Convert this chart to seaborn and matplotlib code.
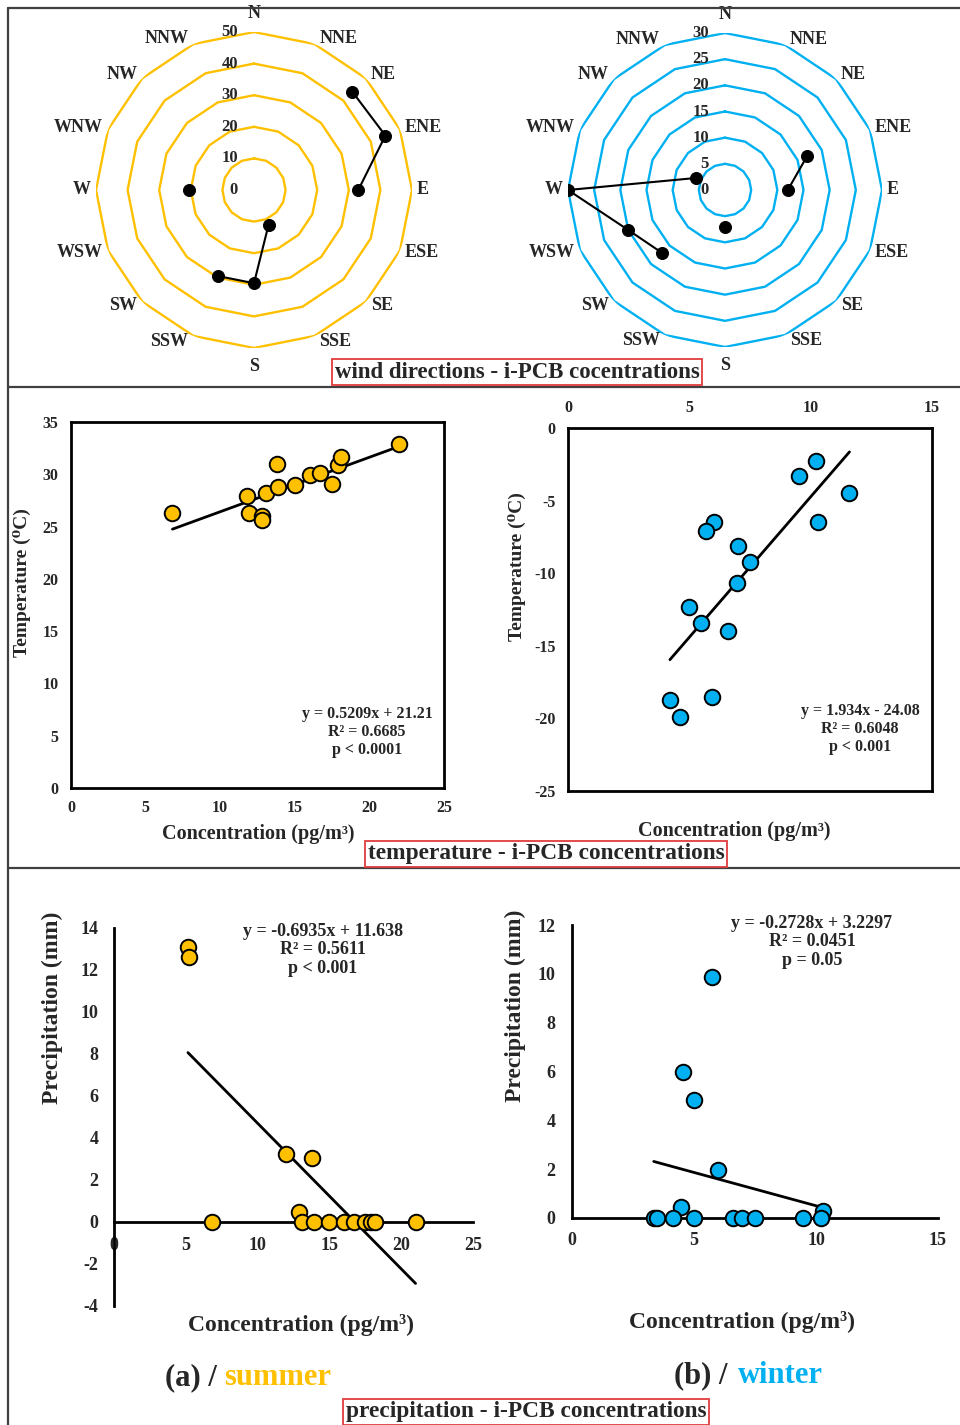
import numpy as np
import pandas as pd
import seaborn as sns
import matplotlib.pyplot as plt
from matplotlib import transforms
from matplotlib.lines import Line2D

nan = np.nan

# wind direction radar, i-PCB (pg/m3); nan = no data (gap in the line)
directions = ["N", "NNE", "NE", "ENE", "E", "ESE", "SE", "SSE",
              "S", "SSW", "SW", "WSW", "W", "WNW", "NW", "NNW"]
wind_summer = [nan, nan, 44, 45, 33, nan, nan, 12, 29.5, 29.5, nan, nan, 20.5, nan, nan, nan]
wind_winter = [nan, nan, nan, 17, 12, nan, nan, nan, 7, nan, 17, 20, 30, 6, nan, nan]
rings_summer = [10, 20, 30, 40, 50]
rings_winter = [5, 10, 15, 20, 25, 30]

# temperature vs concentration
conc_temp_summer = [6.8, 11.8, 11.9, 12.8, 12.8, 13.1, 13.8, 13.9, 15.0, 16.0, 16.7, 17.5, 17.9, 18.1, 22.0]
temp_summer = [26.3, 27.9, 26.3, 26.0, 25.6, 28.2, 31.0, 28.8, 29.0, 29.9, 30.1, 29.1, 30.9, 31.7, 32.9]
conc_temp_winter = [10.2, 9.5, 11.6, 10.3, 6.0, 5.7, 7.0, 7.5, 6.95, 5.0, 5.5, 6.6, 5.95, 4.2, 4.6]
temp_winter = [-2.3, -3.3, -4.5, -6.5, -6.5, -7.1, -8.1, -9.2, -10.7, -12.3, -13.4, -14.0, -18.5, -18.7, -19.9]

# precipitation vs concentration
conc_prec_summer = [5.15, 5.2, 12.0, 13.8, 12.9, 6.8, 13.1, 13.9, 15.0, 16.0, 16.7, 17.5, 17.9, 18.2, 21.0]
prec_summer = [13.1, 12.6, 3.25, 3.05, 0.47, 0, 0, 0, 0, 0, 0, 0, 0, 0, 0]
conc_prec_winter = [5.75, 4.55, 5.0, 6.0, 4.45, 10.3, 10.2, 3.35, 3.5, 4.15, 5.0, 6.6, 6.95, 7.5, 9.45]
prec_winter = [9.85, 6.0, 4.85, 1.95, 0.46, 0.27, 0, 0, 0, 0, 0, 0, 0, 0, 0]

# trend lines (slope, intercept) and their labels
fit_temp_summer = (0.5209, 21.21)
fit_temp_winter = (1.934, -24.08)
fit_prec_summer = (-0.6935, 11.638)
fit_prec_winter = (-0.2728, 3.2297)
txt_temp_summer = "y = 0.5209x + 21.21\nR\u00b2 = 0.6685\np < 0.0001"
txt_temp_winter = "y = 1.934x - 24.08\nR\u00b2 = 0.6048\np < 0.001"
txt_prec_summer = "y = -0.6935x + 11.638\nR\u00b2 = 0.5611\np < 0.001"
txt_prec_winter = "y = -0.2728x + 3.2297\nR\u00b2 = 0.0451\np = 0.05"

GOLD = "#FFC000"
BLUE = "#00B0F0"

sns.set_style("white")
plt.rcParams["font.family"] = ["Liberation Serif", "DejaVu Serif"]
plt.rcParams["font.weight"] = "bold"
plt.rcParams["axes.labelweight"] = "bold"
plt.rcParams["axes.unicode_minus"] = False

W, H = 960, 1425
fig = plt.figure(figsize=(W / 100, H / 100), dpi=100)


def px_axes(x0, y0, x1, y1, **kw):
    return fig.add_axes([x0 / W, 1 - y1 / H, (x1 - x0) / W, (y1 - y0) / H], **kw)


def ftext(x, y, s, **kw):
    return fig.text(x / W, 1 - y / H, s, **kw)


def radar(center, R, values, rings, color):
    cx, cy = center
    ax = px_axes(cx - R, cy - R, cx + R, cy + R, projection="polar")
    ax.set_theta_zero_location("N")
    ax.set_theta_direction(-1)
    ax.set_rlim(0, rings[-1])
    ax.grid(False)
    ax.spines["polar"].set_visible(False)
    ax.set_xticks([])
    ax.set_yticks([])
    ax.patch.set_alpha(0)

    theta = np.deg2rad(np.arange(len(directions)) * 22.5)
    closed = np.append(theta, theta[0])
    for r in rings:
        ax.plot(closed, np.full(len(closed), r), color=color, lw=1.7, zorder=1)

    ax.plot(theta, values, color="black", lw=1.5, zorder=2)
    sns.scatterplot(x=theta, y=values, ax=ax, color="black", s=75, edgecolor="black", zorder=3)

    for r in [0] + rings:
        tr = transforms.offset_copy(ax.transData, fig=fig, x=-16, y=0, units="dots")
        ax.text(0, r, str(r), transform=tr, ha="right", va="center", fontsize=12)

    for t, name in zip(theta, directions):
        s, c = np.sin(t), np.cos(t)
        if abs(s) < 0.01:
            ha, va, dx, dy = "center", ("bottom" if c > 0 else "top"), 0, 10 * c
        else:
            ha, va, dx, dy = ("left" if s > 0 else "right"), "center", 5 * np.sign(s), 6 * c
        tr = transforms.offset_copy(ax.transData, fig=fig, x=dx, y=dy, units="dots")
        ax.text(t, rings[-1], name, transform=tr, ha=ha, va=va, fontsize=13)
    return ax


def scatter_fit(ax, x, y, color, fit):
    sns.scatterplot(x=x, y=y, ax=ax, color=color, edgecolor="black", linewidth=1.4,
                    s=125, zorder=4, clip_on=False)
    xs = np.array([min(x), max(x)])
    sns.lineplot(x=xs, y=fit[0] * xs + fit[1], ax=ax, color="black", linewidth=2, zorder=3)


# ---- wind direction radars ----
radar((254, 190), 158, wind_summer, rings_summer, GOLD)
radar((725, 190), 157, wind_winter, rings_winter, BLUE)

# ---- temperature ----
ax = px_axes(71, 422, 444, 788)
scatter_fit(ax, conc_temp_summer, temp_summer, GOLD, fit_temp_summer)
ax.set_xlim(0, 25)
ax.set_ylim(0, 35)
ax.set_xticks(range(0, 26, 5))
ax.set_yticks(range(0, 36, 5))
ax.tick_params(length=0, labelsize=11.5, pad=9)
for sp in ax.spines.values():
    sp.set_color("black")
    sp.set_linewidth(2)
ftext(367, 732, txt_temp_summer, ha="center", va="center", fontsize=11.5, linespacing=1.15)
ftext(258, 834, "Concentration (pg/m\u00b3)", ha="center", va="center", fontsize=14.5)
ftext(22, 583, "Temperature (\u2070C)", ha="center", va="center", rotation=90, fontsize=14)

ax = px_axes(568, 428, 932, 791)
scatter_fit(ax, conc_temp_winter, temp_winter, BLUE, fit_temp_winter)
ax.set_xlim(0, 15)
ax.set_ylim(-25, 0)
ax.set_xticks(range(0, 16, 5))
ax.set_yticks(range(-25, 1, 5))
ax.xaxis.tick_top()
ax.tick_params(length=0, labelsize=11.5, pad=9)
for sp in ax.spines.values():
    sp.set_color("black")
    sp.set_linewidth(2)
ftext(860, 729, txt_temp_winter, ha="center", va="center", fontsize=11.5, linespacing=1.15)
ftext(734, 831, "Concentration (pg/m\u00b3)", ha="center", va="center", fontsize=14.5)
ftext(517, 567, "Temperature (\u2070C)", ha="center", va="center", rotation=90, fontsize=14)

# ---- precipitation ----
def zero_axes(ax):
    ax.spines["bottom"].set_position(("data", 0))
    ax.spines["top"].set_visible(False)
    ax.spines["right"].set_visible(False)
    for k in ("left", "bottom"):
        ax.spines[k].set_color("black")
        ax.spines[k].set_linewidth(2)


ax = px_axes(114, 928, 473, 1306)
scatter_fit(ax, conc_prec_summer, prec_summer, GOLD, fit_prec_summer)
ax.set_xlim(0, 25)
ax.set_ylim(-4, 14)
ax.set_xticks(range(0, 26, 5))
ax.set_yticks(range(-4, 15, 2))
zero_axes(ax)
ax.tick_params(axis="y", length=0, labelsize=13, pad=11)
ax.tick_params(axis="x", length=0, labelsize=13, pad=11)
ftext(323, 950, txt_prec_summer, ha="center", va="center", fontsize=13, linespacing=1.15)
ftext(301, 1325, "Concentration (pg/m\u00b3)", ha="center", va="center", fontsize=17)
ftext(52, 1008, "Precipitation (mm)", ha="center", va="center", rotation=90, fontsize=17)

ax = px_axes(572, 925, 938, 1218)
scatter_fit(ax, conc_prec_winter, prec_winter, BLUE, fit_prec_winter)
ax.set_xlim(0, 15)
ax.set_ylim(0, 12)
ax.set_xticks(range(0, 16, 5))
ax.set_yticks(range(0, 13, 2))
zero_axes(ax)
ax.tick_params(axis="y", length=0, labelsize=13, pad=12)
ax.tick_params(axis="x", length=0, labelsize=13, pad=10)
ftext(812, 942, txt_prec_winter, ha="center", va="center", fontsize=13, linespacing=1.15)
ftext(742, 1322, "Concentration (pg/m\u00b3)", ha="center", va="center", fontsize=17)
ftext(515, 1006, "Precipitation (mm)", ha="center", va="center", rotation=90, fontsize=17)

ftext(217, 1385, "(a) /", ha="right", va="baseline", fontsize=22)
ftext(224, 1385, "summer", ha="left", va="baseline", fontsize=22, color=GOLD)
ftext(728, 1383, "(b) /", ha="right", va="baseline", fontsize=22)
ftext(738, 1383, "winter", ha="left", va="baseline", fontsize=22, color=BLUE)

# ---- captions and panel frame ----
box = dict(boxstyle="square,pad=0.12", facecolor="white", edgecolor="#E03C3C", linewidth=1.3)
ftext(517, 372, "wind directions - i-PCB cocentrations", ha="center", va="center", fontsize=16.5, bbox=box)
ftext(546, 854, "temperature - i-PCB concentrations", ha="center", va="center", fontsize=16.8, bbox=box)
ftext(526, 1412, "precipitation - i-PCB concentrations", ha="center", va="center", fontsize=16.8, bbox=box)

frame = dict(color="#404040", lw=1.6, transform=fig.transFigure)
fig.add_artist(Line2D([8 / W, 8 / W], [1 - 8 / H, 0], **frame))
for y in (8, 387, 868):
    fig.add_artist(Line2D([8 / W, 1], [1 - y / H, 1 - y / H], **frame))

fig.savefig("out.png", dpi=100)
